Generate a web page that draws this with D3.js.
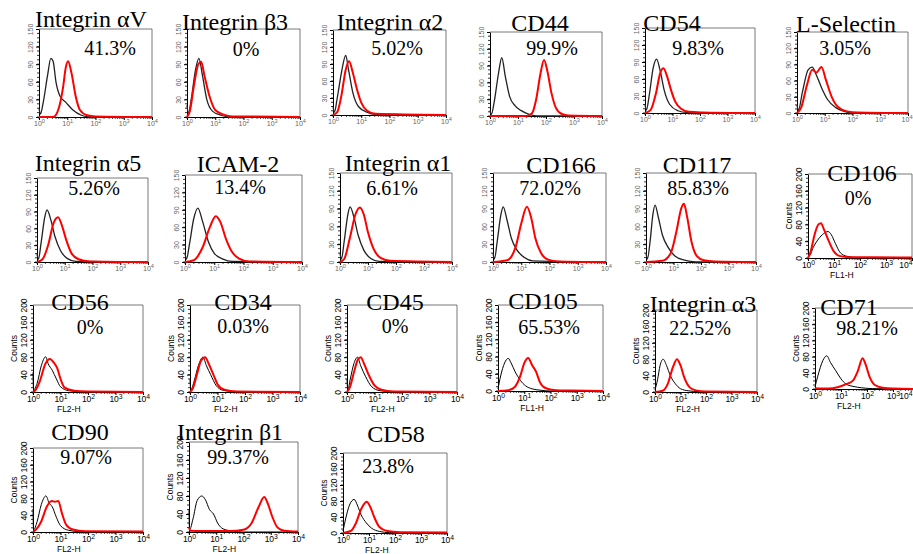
<!DOCTYPE html>
<html>
<head>
<meta charset="utf-8">
<script src="https://cdn.jsdelivr.net/npm/d3@7"></script>
<style>
  body { margin: 0; background: #fff; }
  svg { display: block; }
  .title { font-family: "Liberation Serif", "Times New Roman", serif; font-size: 24px; fill: #000; }
  .pct { font-family: "Liberation Serif", "Times New Roman", serif; font-size: 20px; fill: #000; }
  .lbl { font-family: "Liberation Sans", Arial, sans-serif; }
</style>
</head>
<body>
<svg id="chart" width="913" height="554"></svg>
<script>
// ---- data ----
var names = ["Integrin αV", "Integrin β3", "Integrin α2", "CD44", "CD54", "L-Selectin",
             "Integrin α5", "ICAM-2", "Integrin α1", "CD166", "CD117", "CD106",
             "CD56", "CD34", "CD45", "CD105", "Integrin α3", "CD71",
             "CD90", "Integrin β1", "CD58"];

var percents = ["41.3%", "0%", "5.02%", "99.9%", "9.83%", "3.05%",
                "5.26%", "13.4%", "6.61%", "72.02%", "85.83%", "0%",
                "0%", "0.03%", "0%", "65.53%", "22.52%", "98.21%",
                "9.07%", "99.37%", "23.8%"];

// "" = old cytometer export (0-150 counts, no axis titles)
var channels = ["", "", "", "", "", "", "", "", "", "", "", "FL1-H",
                "FL2-H", "FL2-H", "FL2-H", "FL1-H", "FL2-H", "FL2-H",
                "FL2-H", "FL2-H", "FL2-H"];

// isotype control histograms: [log10 fluorescence, counts]
var ctrl = [
  [[0,15],[0.05,5],[0.15,25],[0.3,70],[0.42,100],[0.5,95],[0.6,60],[0.75,35],[0.95,25],[1.2,12],[1.5,3],[1.8,0],[4,0]],
  [[0,20],[0.05,5],[0.15,30],[0.3,80],[0.42,100],[0.55,70],[0.7,30],[0.9,10],[1.2,3],[1.5,0],[4,0]],
  [[0,15],[0.05,5],[0.15,30],[0.3,75],[0.45,105],[0.55,80],[0.7,40],[0.9,15],[1.2,5],[1.5,1],[4,0]],
  [[0,10],[0.05,3],[0.15,25],[0.3,75],[0.42,104],[0.55,70],[0.7,35],[0.9,18],[1.1,10],[1.4,3],[1.7,0],[4,0]],
  [[0,15],[0.05,5],[0.15,30],[0.3,80],[0.42,95],[0.55,75],[0.7,40],[0.9,15],[1.2,4],[1.5,1],[4,0]],
  [[0,15],[0.05,5],[0.2,40],[0.4,80],[0.55,85],[0.7,70],[0.9,45],[1.1,25],[1.4,10],[1.7,3],[2,0],[4,0]],
  [[0,15],[0.05,5],[0.15,35],[0.28,80],[0.36,93],[0.5,75],[0.65,45],[0.85,20],[1.1,6],[1.4,1],[4,0]],
  [[0,15],[0.05,5],[0.15,30],[0.3,75],[0.44,93],[0.6,70],[0.8,35],[1.0,15],[1.3,5],[1.6,1],[4,0]],
  [[0,15],[0.05,5],[0.15,35],[0.28,80],[0.36,93],[0.5,75],[0.65,45],[0.85,20],[1.1,6],[1.4,1],[4,0]],
  [[0,15],[0.05,5],[0.15,35],[0.28,80],[0.36,93],[0.5,70],[0.65,40],[0.85,20],[1.1,8],[1.4,2],[4,0]],
  [[0,15],[0.05,5],[0.15,35],[0.25,80],[0.33,96],[0.45,75],[0.6,45],[0.8,25],[1.05,10],[1.4,3],[1.8,0],[4,0]],
  [[0,20],[0.05,5],[0.2,25],[0.4,45],[0.6,58],[0.77,63],[0.9,55],[1.05,35],[1.25,12],[1.5,4],[1.9,1],[4,0]],
  [[0,45],[0.02,5],[0.15,20],[0.3,60],[0.46,81],[0.55,65],[0.7,50],[0.85,30],[1.0,12],[1.3,3],[1.7,1],[4,0]],
  [[0,30],[0.03,5],[0.15,25],[0.3,60],[0.47,80],[0.6,60],[0.75,40],[0.95,15],[1.2,4],[1.6,1],[4,0]],
  [[0,30],[0.03,5],[0.12,30],[0.25,65],[0.38,80],[0.5,60],[0.68,35],[0.9,12],[1.2,3],[1.6,1],[4,0]],
  [[0,5],[0.1,35],[0.25,65],[0.39,76],[0.5,65],[0.65,45],[0.85,25],[1.05,12],[1.3,5],[1.6,2],[2,0],[4,0]],
  [[0,5],[0.1,30],[0.2,65],[0.32,80],[0.45,65],[0.6,40],[0.8,20],[1.0,8],[1.3,3],[1.7,1],[4,0]],
  [[0,5],[0.1,30],[0.3,70],[0.45,82],[0.6,65],[0.8,45],[1.0,25],[1.2,12],[1.5,6],[1.8,3],[2.2,1],[4,0]],
  [[0,55],[0.02,5],[0.15,25],[0.3,65],[0.47,86],[0.58,70],[0.7,60],[0.85,35],[1.0,15],[1.3,4],[1.7,1],[4,0]],
  [[0,50],[0.02,5],[0.15,30],[0.3,70],[0.47,80],[0.6,72],[0.75,50],[0.9,40],[1.05,20],[1.25,7],[1.6,2],[2,0],[4,0]],
  [[0,5],[0.1,35],[0.25,70],[0.43,84],[0.55,70],[0.7,45],[0.9,25],[1.1,12],[1.4,4],[1.8,1],[4,0]]
];

// antibody-stained histograms: [log10 fluorescence, counts]
var stained = [
  [[0,0],[0.5,0],[0.7,15],[0.85,50],[0.95,85],[1.03,95],[1.15,75],[1.3,35],[1.45,12],[1.7,3],[2,1],[4,0]],
  [[0,0],[0.1,10],[0.25,55],[0.4,90],[0.5,94],[0.62,70],[0.8,35],[1.0,12],[1.3,4],[1.6,1],[4,0]],
  [[0,0],[0.15,5],[0.3,35],[0.45,80],[0.57,95],[0.7,75],[0.85,45],[1.0,22],[1.2,8],[1.5,2],[4,0]],
  [[0,0],[1.3,0],[1.5,5],[1.65,30],[1.8,75],[1.93,100],[2.05,80],[2.2,40],[2.35,15],[2.55,4],[2.8,1],[4,0]],
  [[0,0],[0.2,5],[0.4,35],[0.55,70],[0.67,79],[0.8,65],[0.95,40],[1.1,20],[1.3,8],[1.6,2],[2,1],[4,0]],
  [[0,0],[0.15,10],[0.35,50],[0.55,80],[0.7,75],[0.88,85],[1.05,60],[1.25,30],[1.5,10],[1.8,3],[2.2,1],[4,0]],
  [[0,0],[0.2,5],[0.4,30],[0.6,70],[0.76,80],[0.9,65],[1.05,40],[1.25,15],[1.5,5],[1.9,1],[4,0]],
  [[0,0],[0.3,3],[0.6,25],[0.85,60],[1.05,79],[1.2,70],[1.4,40],[1.6,18],[1.85,6],[2.2,1],[4,0]],
  [[0,0],[0.15,5],[0.35,40],[0.55,80],[0.71,92],[0.85,80],[1.0,50],[1.2,22],[1.45,7],[1.8,2],[4,0]],
  [[0,0],[0.5,3],[0.8,25],[1.0,65],[1.2,93],[1.35,75],[1.5,40],[1.7,15],[1.95,4],[2.3,1],[4,0]],
  [[0,0],[0.6,2],[0.9,15],[1.1,50],[1.28,90],[1.38,98],[1.5,75],[1.65,35],[1.85,10],[2.1,3],[2.5,1],[4,0]],
  [[0,0],[0.1,15],[0.25,55],[0.4,80],[0.5,83],[0.6,70],[0.8,40],[1.0,15],[1.2,5],[1.6,2],[2.5,2],[4,1]],
  [[0,0],[0.1,5],[0.25,25],[0.45,65],[0.62,76],[0.75,68],[0.88,55],[1.0,30],[1.15,10],[1.5,3],[2,1],[4,0]],
  [[0,0],[0.1,8],[0.25,40],[0.4,72],[0.55,80],[0.68,65],[0.85,40],[1.0,18],[1.25,5],[1.7,1],[4,0]],
  [[0,0],[0.1,10],[0.25,45],[0.4,75],[0.5,80],[0.62,65],[0.8,38],[1.0,15],[1.25,5],[1.7,1],[4,0]],
  [[0,0],[0.4,2],[0.65,10],[0.85,35],[1.0,65],[1.15,77],[1.3,60],[1.45,45],[1.6,20],[1.8,7],[2.2,2],[2.8,1],[4,0]],
  [[0,0],[0.3,3],[0.5,20],[0.7,60],[0.86,80],[1.0,65],[1.15,35],[1.35,12],[1.6,4],[2,1],[4,0]],
  [[0,2],[0.5,1],[0.9,5],[1.2,12],[1.45,20],[1.65,45],[1.83,76],[1.95,60],[2.1,30],[2.3,10],[2.6,3],[3,1],[4,0]],
  [[0,0],[0.1,5],[0.3,25],[0.5,60],[0.68,74],[0.8,72],[0.92,74],[1.05,45],[1.2,18],[1.45,6],[1.9,2],[4,1]],
  [[0,10],[0.05,3],[0.5,2],[1.5,2],[2.0,5],[2.3,20],[2.55,55],[2.76,78],[2.9,62],[3.05,35],[3.25,10],[3.5,3],[4,1]],
  [[0,0],[0.3,5],[0.5,25],[0.7,60],[0.91,78],[1.05,65],[1.2,40],[1.4,15],[1.7,5],[2.2,2],[4,1]]
];

// ---- layout ----
// plot box of each panel: [left, top, width, height]
var boxes = [
  [39,29,113,88], [187,29,113,88], [333,30,113,85], [490,32,112,84], [645,28,110,85], [797,32,111,81],
  [37,178,111,84], [185,175,117,87], [340,173,112,89], [493,173,113,89], [646,173,110,89], [808,174,104,84],
  [33,305,110,87], [190,305,110,87], [347,305,110,87], [498,305,105,86], [655,310,102,82], [815,308,104,81],
  [33,448,110,84], [189,442,109,90], [343,453,104,80]
];
// title centre / baseline
var titlePos = [
  [91,27], [235,30], [390,30], [540,31], [672,31], [846,32],
  [88,171], [238,172], [398,171], [561,173], [697,173], [862,181],
  [80,310], [243,310], [395,310], [543,309], [703,312], [849,315],
  [80,440], [230,440], [396,442]
];
// percentage centre / baseline
var pctPos = [
  [110,55], [246,56], [397,55], [552,55], [698,55], [845,55],
  [94,195], [240,194], [392,195], [550,195], [698,195], [858,205],
  [90,334], [243,333], [395,333], [549,334], [700,335], [867,335],
  [86,464], [238,464], [388,473]
];

var W = 913;
var svg = d3.select("#chart");
svg.append("rect").attr("width", W).attr("height", 554).attr("fill", "#fff");

names.forEach(function(name, i) {
  var b = boxes[i];
  var old = channels[i] === "";
  var yMax = old ? 150 : 200, yStep = old ? 30 : 40;
  var axisCol = old ? "#666" : "#000";
  var left = b[0], top = b[1], right = b[0] + b[2], bottom = b[1] + b[3];

  var x = d3.scaleLog().domain([1, 1e4]).range([left, right]);
  var y = d3.scaleLinear().domain([0, yMax]).range([bottom, top]);

  var g = svg.append("g").attr("class", "panel");

  // top / right frame
  g.append("path")
      .attr("d", "M" + left + "," + top + "H" + right + "V" + bottom)
      .attr("fill", "none")
      .attr("stroke", "#555")
      .attr("stroke-width", 0.8);

  // y axis
  var gy = g.append("g")
      .attr("transform", "translate(" + left + ",0)")
      .call(d3.axisLeft(y).tickValues(d3.range(0, yMax + 1, yStep)).tickSize(3).tickSizeOuter(0));
  gy.select(".domain").attr("stroke", "#000");
  gy.selectAll(".tick line").attr("stroke", "#000");
  gy.selectAll(".tick text")
      .attr("class", "lbl")
      .attr("transform", "rotate(-90)")
      .attr("x", 0).attr("y", -6).attr("dy", 0)
      .attr("text-anchor", "middle")
      .attr("font-size", old ? 7 : 8.5)
      .attr("fill", axisCol);
  // dotted minor ticks
  g.selectAll(null)
      .data(d3.range(0, yMax, yStep / 4))
    .enter().append("line")
      .attr("x1", left - 2).attr("x2", left)
      .attr("y1", function(d) { return y(d); })
      .attr("y2", function(d) { return y(d); })
      .attr("stroke", "#000").attr("stroke-width", 0.8);

  // x axis (log decades)
  var gx = g.append("g")
      .attr("transform", "translate(0," + bottom + ")")
      .call(d3.axisBottom(x).tickValues([1, 10, 100, 1e3, 1e4]).tickSize(3).tickSizeOuter(0).tickFormat(""));
  gx.select(".domain").attr("stroke", "#000");
  gx.selectAll(".tick text").each(function(d) {
    var t = d3.select(this)
        .attr("class", "lbl")
        .attr("font-size", old ? 7 : 8.5)
        .attr("fill", axisCol)
        .attr("y", 4);
    // keep the last label inside the page
    if (x(d) + 7 > W - 1) t.attr("text-anchor", "end").attr("x", W - 1 - x(d));
    t.append("tspan").text("10");
    t.append("tspan").attr("dy", "-0.45em").attr("font-size", "0.8em").text(Math.round(Math.log10(d)));
  });
  g.selectAll(null)
      .data(x.ticks())
    .enter().append("line")
      .attr("x1", function(d) { return x(d); })
      .attr("x2", function(d) { return x(d); })
      .attr("y1", bottom).attr("y2", bottom + 2)
      .attr("stroke", "#000").attr("stroke-width", 0.7);

  if (!old) {
    g.append("text")
        .attr("class", "lbl")
        .attr("transform", "translate(" + (left - 16) + "," + (top + b[3] / 2) + ") rotate(-90)")
        .attr("text-anchor", "middle")
        .attr("font-size", 8.5)
        .text("Counts");
    g.append("text")
        .attr("class", "lbl")
        .attr("x", x(Math.pow(10, 1.3)))
        .attr("y", bottom + 20)
        .attr("text-anchor", "middle")
        .attr("font-size", 8.5)
        .text(channels[i]);
  }

  var line = d3.line()
      .x(function(d) { return x(Math.pow(10, d[0])); })
      .y(function(d) { return y(d[1]); })
      .curve(d3.curveMonotoneX);

  g.append("path")
      .datum(ctrl[i])
      .attr("d", line)
      .attr("fill", "none")
      .attr("stroke", old ? "#222" : "#000")
      .attr("stroke-width", old ? 1.3 : 1);

  g.append("path")
      .datum(stained[i])
      .attr("d", line)
      .attr("fill", "none")
      .attr("stroke", "#f00")
      .attr("stroke-width", 2);

  svg.append("text")
      .attr("class", "title")
      .attr("x", titlePos[i][0]).attr("y", titlePos[i][1])
      .attr("text-anchor", "middle")
      .text(name);

  svg.append("text")
      .attr("class", "pct")
      .attr("x", pctPos[i][0]).attr("y", pctPos[i][1])
      .attr("text-anchor", "middle")
      .text(percents[i]);
});
</script>
</body>
</html>
